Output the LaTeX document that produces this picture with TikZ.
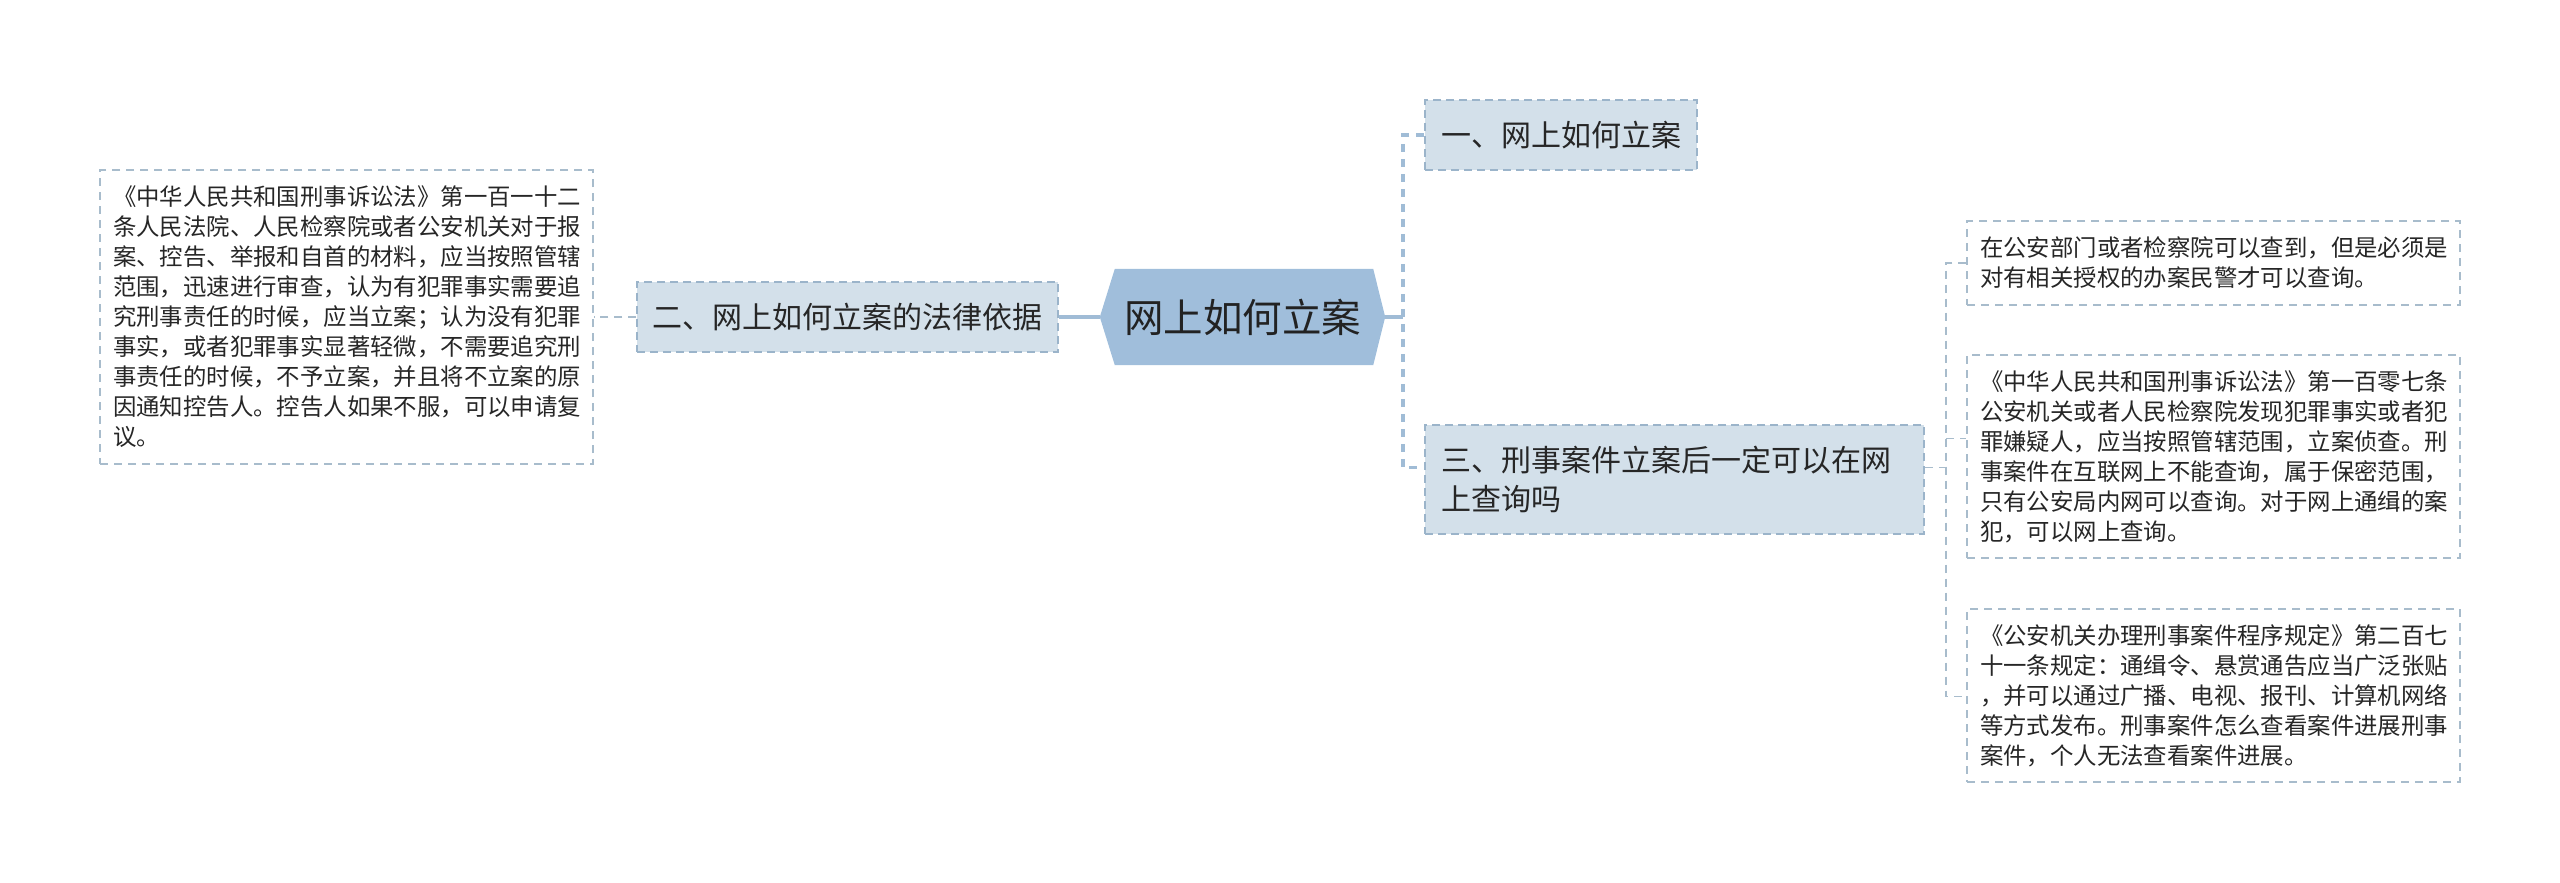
\documentclass[tikz,border=0pt]{standalone}
\usepackage{fontspec}
\setmainfont{Noto Sans CJK SC}
\usetikzlibrary{calc,backgrounds}
\definecolor{textc}{HTML}{262626}
\definecolor{roottext}{HTML}{222222}
\definecolor{hexfill}{HTML}{A0BEDB}
\definecolor{nodefill}{HTML}{D3E0EA}
\definecolor{nodeborder}{HTML}{9BB4CA}
\definecolor{leafborder}{HTML}{A8BCCC}
\definecolor{linkc}{HTML}{A0BCD6}
\tikzset{
  topic/.style={draw=nodeborder, fill=nodefill, line width=1.5pt, dash pattern=on 8pt off 5pt,
    inner sep=0pt, font=\fontsize{30}{39}\selectfont, text=textc},
  leaf/.style={draw=leafborder, fill=white, line width=1.3pt, dash pattern=on 8pt off 6pt,
    inner xsep=13pt, inner ysep=0pt, text width=467pt, align=left,
    font=\fontsize{23.4}{30}\selectfont, text=textc},
  rootnode/.style={minimum width=285pt, minimum height=96pt, inner sep=0pt,
    font=\fontsize{39.5}{45}\selectfont, text=roottext},
  solidlink/.style={draw=linkc, line width=3.5pt},
  dashlink/.style={draw=linkc, line width=3.5pt, dash pattern=on 8pt off 7pt},
  thinlink/.style={draw=leafborder, line width=1.3pt, dash pattern=on 8pt off 6pt},
}
\begin{document}
\begin{tikzpicture}[x=1pt,y=-1pt]
\useasboundingbox (0,0) rectangle (2560,883);
% root
\node[rootnode] (root) at (1242.5,317) {网上如何立案};
\begin{scope}[on background layer]
\fill[hexfill] (root.west) -- ($(root.north west)+(15,0)$) -- ($(root.north east)+(-12,0)$)
  -- (root.east) -- ($(root.south east)+(-12,0)$) -- ($(root.south west)+(15,0)$) -- cycle;
\end{scope}
% main topics
\node[topic, minimum width=421pt, minimum height=70pt] (n2) at (847.5,317) {二、网上如何立案的法律依据};
\node[topic, minimum width=272pt, minimum height=70pt] (n1) at (1561,135) {一、网上如何立案};
\node[topic, minimum width=499pt, minimum height=109pt, text width=467pt, inner xsep=16pt, align=left] (n3) at (1674.5,479.5) {三、刑事案件立案后一定可以在网\\上查询吗};
% leaves
\node[leaf, minimum height=294pt] (lbox) at (346.5,317) {《中华人民共和国刑事诉讼法》第一百一十二\\条人民法院、人民检察院或者公安机关对于报\\案、控告、举报和自首的材料，应当按照管辖\\范围，迅速进行审查，认为有犯罪事实需要追\\究刑事责任的时候，应当立案；认为没有犯罪\\事实，或者犯罪事实显著轻微，不需要追究刑\\事责任的时候，不予立案，并且将不立案的原\\因通知控告人。控告人如果不服，可以申请复\\议。};
\node[leaf, minimum height=84pt] (r1) at (2213.5,263) {在公安部门或者检察院可以查到，但是必须是\\对有相关授权的办案民警才可以查询。};
\node[leaf, minimum height=203pt] (r2) at (2213.5,456.5) {《中华人民共和国刑事诉讼法》第一百零七条\\公安机关或者人民检察院发现犯罪事实或者犯\\罪嫌疑人，应当按照管辖范围，立案侦查。刑\\事案件在互联网上不能查询，属于保密范围，\\只有公安局内网可以查询。对于网上通缉的案\\犯，可以网上查询。};
\node[leaf, minimum height=173pt] (r3) at (2213.5,695.5) {《公安机关办理刑事案件程序规定》第二百七\\十一条规定：通缉令、悬赏通告应当广泛张贴\\，并可以通过广播、电视、报刊、计算机网络\\等方式发布。刑事案件怎么查看案件进展刑事\\案件，个人无法查看案件进展。};
% connectors left
\draw[solidlink] (root.west) -- (n2.east);
\draw[thinlink] (n2.west) -- (lbox.east);
% connectors right of root
\coordinate (j1) at (1403,317);
\coordinate (n3w) at ($(n3.west)+(0,-12)$);
\draw[solidlink] (root.east) -- (j1);
\draw[dashlink] (n1.west) -| (j1) |- (n3w);
% connectors right of topic 3
\coordinate (n3e) at ($(n3.east)+(0,-12)$);
\coordinate (j2) at (1946,467.5);
\coordinate (r2w) at ($(r2.west)+(0,-18)$);
\coordinate (r3w) at ($(r3.west)+(0,1)$);
\draw[thinlink] (n3e) -- (j2);
\draw[thinlink] (r1.west) -| (j2) |- (r3w);
\draw[thinlink] (j2 |- r2w) -- (r2w);
\end{tikzpicture}
\end{document}
